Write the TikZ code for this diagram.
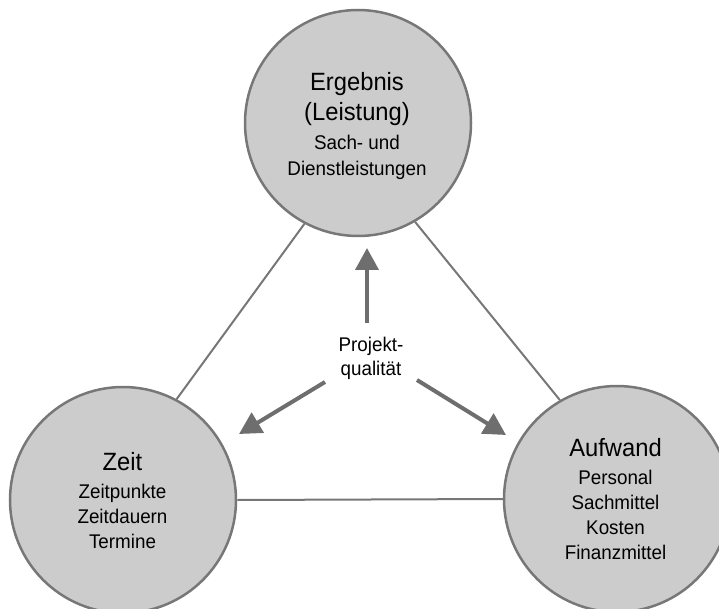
\documentclass[tikz,border=0pt]{standalone}
\usepackage{fontspec}
\setmainfont[FakeStretch=0.95]{Liberation Sans}
\usetikzlibrary{arrows.meta}
\definecolor{discfill}{HTML}{CCCCCC}
\definecolor{discline}{HTML}{777777}
\definecolor{arrowgray}{HTML}{6E6E6E}
\newcommand{\headfont}{\fontsize{25}{30}\selectfont}
\newcommand{\itemfont}{\fontsize{19.8}{25}\selectfont}
\begin{document}
\begin{tikzpicture}[x=1pt,y=-1pt,
  disc/.style={circle,draw=discline,fill=discfill,line width=2.5pt,
    minimum size=226pt,inner sep=0pt},
  disctext/.style={align=center,inner sep=0pt,font=\itemfont,text=black},
  side/.style={draw=discline,line width=2pt},
  pointer/.style={draw=arrowgray,line width=4pt,
    -{Triangle[length=22pt,width=23pt]}},
  caption/.style={align=center,inner sep=0pt,font=\itemfont}]
  \useasboundingbox (0,0) rectangle (719,609);

  % the three corners of the magic triangle
  \node[disc] (res) at (358,123) {};
  \node[disc] (tim) at (123,500) {};
  \node[disc] (eff) at (617,499) {};

  \node[disctext] (resText) at (357,125.8)
    {{\headfont Ergebnis}\\[5.2pt]{\headfont (Leistung)}\\[4.5pt]Sach- und\\[0.7pt]Dienstleistungen};
  \node[disctext] (timText) at (122.5,500.7)
    {{\headfont Zeit}\\[2.5pt]Zeitpunkte\\Zeitdauern\\Termine};
  \node[disctext] (effText) at (615.5,498.9)
    {{\headfont Aufwand}\\[2.6pt]Personal\\Sachmittel\\Kosten\\Finanzmittel};

  % triangle sides
  \draw[side] (res.242) -- (tim.62);
  \draw[side] (res.300) -- (eff.120);
  \draw[side] (tim.0) -- (eff.180);

  % quality in the middle, pulling towards each corner
  \node[caption] (pq) at (371,357.9) {Projekt-\\[-1pt]qualität};
  \coordinate (upS) at (367,323);
  \coordinate (upT) at (367,248);
  \coordinate (lfS) at (325,382);
  \coordinate (lfT) at (239,434);
  \coordinate (rtS) at (417,380);
  \coordinate (rtT) at (506,435);
  \draw[pointer] (upS) -- (upT);
  \draw[pointer] (lfS) -- (lfT);
  \draw[pointer] (rtS) -- (rtT);
\end{tikzpicture}
\end{document}
